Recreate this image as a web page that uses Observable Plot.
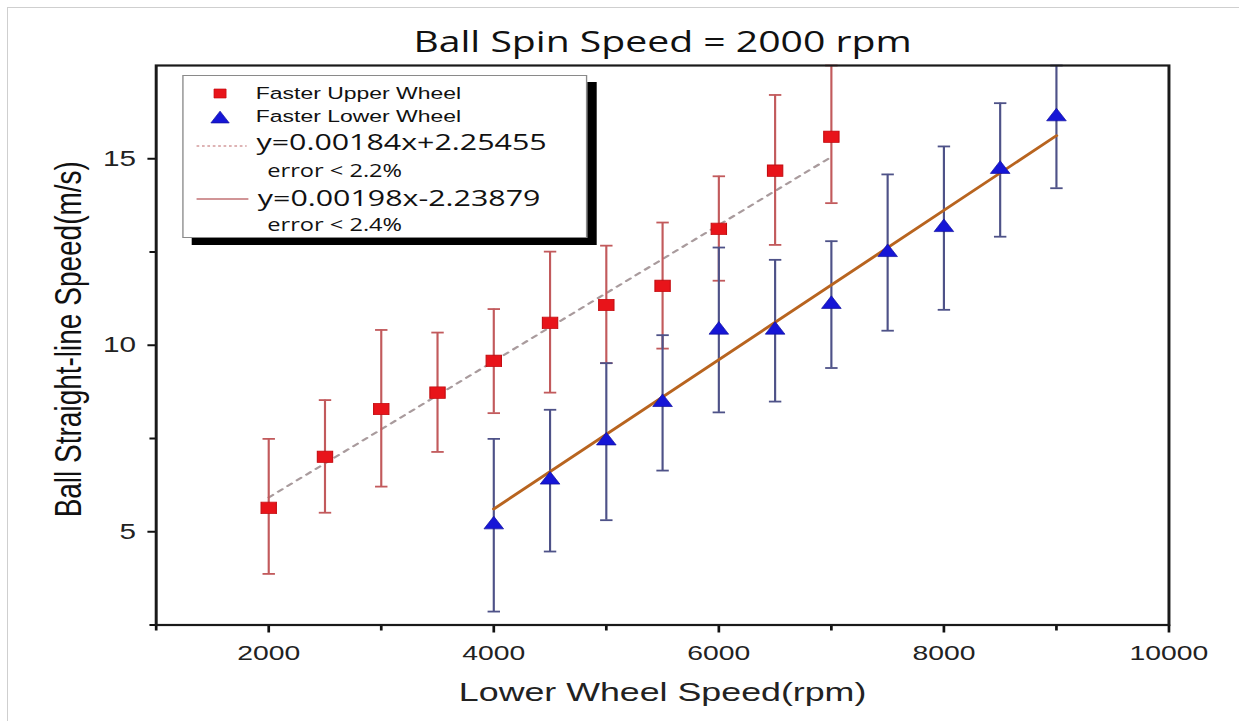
<!DOCTYPE html>
<html>
<head>
<meta charset="utf-8">
<script src="https://cdn.jsdelivr.net/npm/d3@7"></script>
<script src="https://cdn.jsdelivr.net/npm/@observablehq/plot@0.6"></script>
<style>
  html, body { margin: 0; padding: 0; background: #fff; width: 1239px; height: 721px; overflow: hidden; }
  #border { position: absolute; left: 7px; top: 7px; right: 0; bottom: 0; border-left: 1px solid #cfcfcf; border-top: 1px solid #cfcfcf; }
  #wrap { position: absolute; left: 0; top: 0; width: 918px; height: 721px; transform: scaleX(1.35); transform-origin: 0 0; }
  #legend { position: absolute; left: 134.8px; top: 75px; width: 298px; height: 161px; border: 1px solid #8a8a8a; background: #fff; box-shadow: 7px 7px 0 #000; }
  #legend svg { position: absolute; left: 0; top: 0; }
</style>
</head>
<body>
<div id="border"></div>
<div id="wrap"><div id="legend"></div></div>
<script>
// ---- data ----
const title = "Ball Spin Speed = 2000 rpm";
const xLabel = "Lower Wheel Speed(rpm)";
const yLabel = "Ball Straight-line Speed(m/s)";
const seriesNames = ["Faster Upper Wheel", "Faster Lower Wheel"];
const fitLabels = ["y=0.00184x+2.25455", "y=0.00198x-2.23879"];
const errorLabels = ["error < 2.2%", "error < 2.4%"];

const upperX  = [2000, 2500, 3000, 3500, 4000, 4500, 5000, 5500, 6000, 6500, 7000];
const upperY  = [5.64, 7.01, 8.29, 8.73, 9.58, 10.60, 11.08, 11.59, 13.12, 14.68, 15.59];
const upperHi = [7.49, 8.53, 10.41, 10.34, 10.97, 12.51, 12.67, 13.29, 14.53, 16.71, 17.5];
const upperLo = [3.87, 5.51, 6.21, 7.14, 8.18, 8.73, 9.52, 9.91, 11.73, 12.69, 13.81];

const lowerX  = [4000, 4500, 5000, 5500, 6000, 6500, 7000, 7500, 8000, 8500, 9000];
const lowerY  = [5.19, 6.39, 7.44, 8.47, 10.41, 10.41, 11.10, 12.49, 13.16, 14.72, 16.13];
const lowerHi = [7.49, 8.27, 9.52, 10.27, 12.62, 12.29, 12.79, 14.58, 15.33, 16.49, 17.5];
const lowerLo = [2.86, 4.47, 5.31, 6.64, 8.20, 8.49, 9.39, 10.39, 10.95, 12.91, 14.21];

// fitted lines, end points
const fitUpperX = [2000, 7000];
const fitUpperY = [5.92, 15.05];
const fitLowerX = [4000, 9000];
const fitLowerY = [5.61, 15.62];

const xMajor = [2000, 4000, 6000, 8000, 10000];
const xMinor = [1000, 3000, 5000, 7000, 9000];
const yMajor = [5, 10, 15];
const yMinor = [2.5, 7.5, 12.5];

// ---- build tables ----
const upper = upperX.map((x, i) => ({x, y: upperY[i], hi: upperHi[i], lo: upperLo[i]}));
const lower = lowerX.map((x, i) => ({x, y: lowerY[i], hi: lowerHi[i], lo: lowerLo[i]}));
const fitUpper = fitUpperX.map((x, i) => ({x, y: fitUpperY[i]}));
const fitLower = fitLowerX.map((x, i) => ({x, y: fitLowerY[i]}));

const capSymbol = {
  draw(ctx, size) {
    const w = Math.sqrt(size / Math.PI);
    ctx.moveTo(-w, 0); ctx.lineTo(w, 0);
  }
};

const redBar = "#c25a5c", blueBar = "#4e5288";
const redFill = "#e8141a", blueFill = "#1616d6";

const chart = Plot.plot({
  width: 918, height: 721,
  marginLeft: 115.2, marginRight: 52.6, marginTop: 65, marginBottom: 96.5,
  x: {domain: [1000, 10000]},
  y: {domain: [2.5, 17.5]},
  style: {fontFamily: "'Liberation Sans', Arial, sans-serif", background: "transparent", overflow: "visible"},
  marks: [
    // fits
    Plot.line(fitUpper, {x: "x", y: "y", stroke: "#a99b9d", strokeWidth: 2, strokeDasharray: "4,5"}),
    // error bars
    Plot.ruleX(upper, {x: "x", y1: "lo", y2: "hi", stroke: redBar, strokeWidth: 1.6}),
    Plot.dot(upper, {x: "x", y: "hi", symbol: capSymbol, r: 4.6, stroke: redBar, strokeWidth: 1.8, fill: "none"}),
    Plot.dot(upper, {x: "x", y: "lo", symbol: capSymbol, r: 4.6, stroke: redBar, strokeWidth: 1.8, fill: "none"}),
    Plot.ruleX(lower, {x: "x", y1: "lo", y2: "hi", stroke: blueBar, strokeWidth: 1.6}),
    Plot.dot(lower, {x: "x", y: "hi", symbol: capSymbol, r: 4.6, stroke: blueBar, strokeWidth: 1.8, fill: "none"}),
    Plot.dot(lower, {x: "x", y: "lo", symbol: capSymbol, r: 4.6, stroke: blueBar, strokeWidth: 1.8, fill: "none"}),
    Plot.line(fitLower, {x: "x", y: "y", stroke: "#b8641f", strokeWidth: 2.6}),
    // markers
    Plot.dot(upper, {x: "x", y: "y", symbol: "square", r: 6.4, fill: redFill, stroke: "#c40c10", strokeWidth: 0.8}),
    Plot.dot(lower, {x: "x", y: "y", symbol: "triangle", r: 5.4, fill: blueFill, stroke: "#1010a0", strokeWidth: 0.6}),
    // axes
    Plot.axisX({ticks: xMajor, tickSize: 8, tickPadding: 12, fontSize: 21, tickFormat: d => String(d), label: null, stroke: "#111", strokeWidth: 2, fill: "#222"}),
    Plot.axisX({ticks: xMinor, tickSize: 6, tickFormat: () => "", label: null, stroke: "#111", strokeWidth: 2}),
    Plot.axisY({ticks: yMajor, tickSize: 6, tickPadding: 9, fontSize: 22, tickFormat: d => String(d), label: null, stroke: "#111", strokeWidth: 2, fill: "#222"}),
    Plot.axisY({ticks: yMinor, tickSize: 4.5, tickFormat: () => "", label: null, stroke: "#111", strokeWidth: 2}),
    Plot.frame({stroke: "#1a1a1a", strokeWidth: 2.2}),
    // titles
    Plot.text([title], {frameAnchor: "top", lineAnchor: "middle", dy: -22.5, fontSize: 29, fontFamily: "'Open Sans', sans-serif", fontWeight: 500, fill: "#111"}),
    Plot.text([xLabel], {frameAnchor: "bottom", lineAnchor: "middle", dy: 68, fontSize: 26.5, fill: "#222"}),
    Plot.text([yLabel], {frameAnchor: "left", textAnchor: "middle", lineAnchor: "middle", rotate: -90, dx: -65, dy: -6, fontSize: 28, fill: "#111"})
  ]
});
document.getElementById("wrap").insertBefore(chart, document.getElementById("legend"));

// ---- legend ----
const lg = d3.select("#legend").append("svg").attr("width", 298).attr("height", 161);
lg.append("path").attr("d", d3.symbol(d3.symbolSquare, 80)()).attr("transform", "translate(27,17.5)")
  .attr("fill", redFill).attr("stroke", "#c40c10").attr("stroke-width", 0.6);
lg.append("path").attr("d", d3.symbol(d3.symbolTriangle, 80)()).attr("transform", "translate(27,43)")
  .attr("fill", blueFill).attr("stroke", "#1010a0").attr("stroke-width", 0.6);
const legendText = [
  {t: seriesNames[0], x: 53.5, y: 17, size: 17, fam: "'Liberation Sans', Arial, sans-serif"},
  {t: seriesNames[1], x: 53.5, y: 40, size: 17, fam: "'Liberation Sans', Arial, sans-serif"},
  {t: fitLabels[0], x: 54, y: 66, size: 22.5, fam: "'Open Sans', sans-serif"},
  {t: errorLabels[0], x: 62, y: 95, size: 17.5, fam: "'Open Sans', sans-serif"},
  {t: fitLabels[1], x: 55, y: 122.5, size: 22.5, fam: "'Open Sans', sans-serif"},
  {t: errorLabels[1], x: 62, y: 148.5, size: 17.5, fam: "'Open Sans', sans-serif"}
];
lg.selectAll("text.lt").data(legendText).join("text")
  .attr("x", d => d.x).attr("y", d => d.y).attr("dy", "0.35em")
  .attr("font-size", d => d.size).attr("font-family", d => d.fam).attr("fill", "#111")
  .text(d => d.t);
lg.append("line").attr("x1", 9.6).attr("x2", 46.7).attr("y1", 70).attr("y2", 70)
  .attr("stroke", "#d39a9c").attr("stroke-width", 1.5).attr("stroke-dasharray", "2,2");
lg.append("line").attr("x1", 9.6).attr("x2", 48).attr("y1", 123).attr("y2", 123)
  .attr("stroke", "#c27275").attr("stroke-width", 1.5);
</script>
</body>
</html>
